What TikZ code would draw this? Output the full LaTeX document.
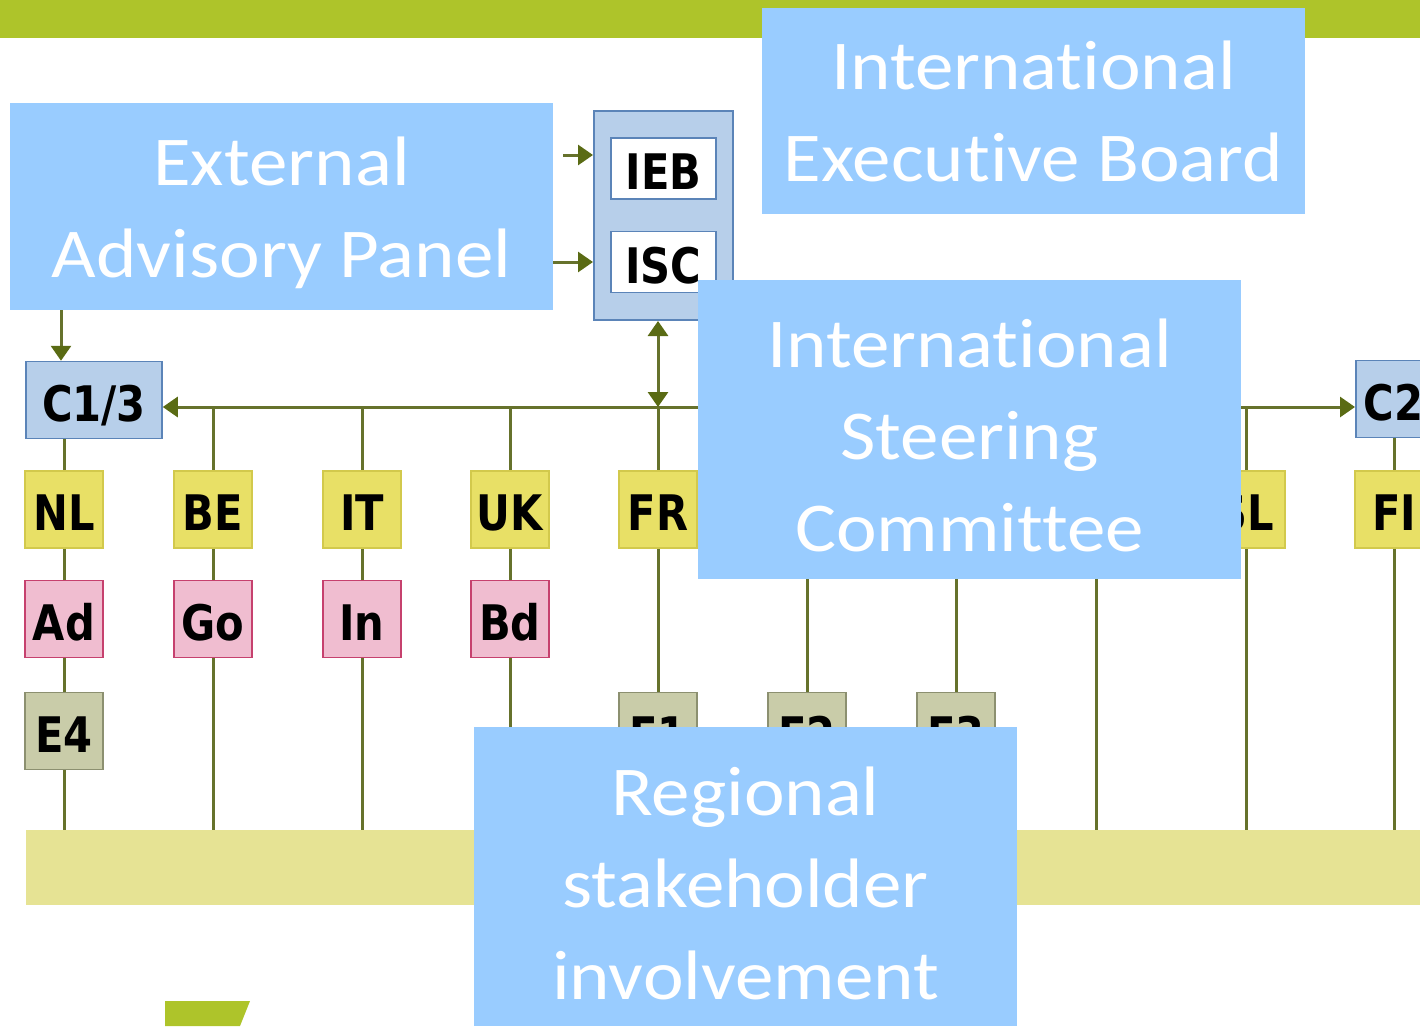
\documentclass[tikz,border=0pt]{standalone}
\usepackage{fontspec}
\setmainfont{Carlito}[Ligatures={NoCommon,NoContextual},FakeStretch=1.1]
\newfontfamily\boxfont{DejaVu Sans}[FakeStretch=0.85]
\usetikzlibrary{arrows.meta,calc,positioning}
\definecolor{color_top_green}{HTML}{AEC42A}
\definecolor{color_label}{HTML}{99CCFF}
\definecolor{color_link}{HTML}{66722C}
\definecolor{color_tip}{HTML}{5A6B14}
\definecolor{color_c_fill}{HTML}{B7CFEA}
\definecolor{color_c_draw}{HTML}{5B84B8}
\definecolor{color_country_fill}{HTML}{E8E066}
\definecolor{color_country_draw}{HTML}{D2C94C}
\definecolor{color_region_fill}{HTML}{F0BDD0}
\definecolor{color_region_draw}{HTML}{C6416E}
\definecolor{color_e_fill}{HTML}{C9CCA9}
\definecolor{color_e_draw}{HTML}{8C9070}
\definecolor{color_bar}{HTML}{E6E394}

\begin{document}
\begin{tikzpicture}[x=1pt,y=-1pt,
		every node/.style={inner sep=0pt},
		link/.style={color_link,line width=3pt},
		arr/.style={link,-{Triangle[width=20pt,length=15pt,color_tip]}},
		darr/.style={link,{Triangle[width=20pt,length=15pt,color_tip]}-{Triangle[width=20pt,length=15pt,color_tip]}},
		unit/.style={line width=1.5pt,minimum width=78pt,minimum height=77pt,
			text height=42pt,text depth=0pt,
			font=\boxfont\bfseries\fontsize{49}{49}\selectfont},
		cbox/.style={unit,draw=color_c_draw,fill=color_c_fill,minimum width=136pt},
		country/.style={unit,draw=color_country_draw,fill=color_country_fill},
		region/.style={unit,draw=color_region_draw,fill=color_region_fill},
		ebox/.style={unit,draw=color_e_draw,fill=color_e_fill},
		board/.style={draw=color_c_draw,fill=color_c_fill,line width=2pt},
		inbox/.style={unit,draw=color_c_draw,fill=white,minimum width=105pt,minimum height=61pt},
		labelbox/.style={fill=color_label,minimum width=543pt},
		labeltext/.style={text=white,align=center,font=\fontsize{70}{92}\selectfont},
	]
	\useasboundingbox (0,0) rectangle (1420,1026);

	% Bars
	\fill[color_top_green] (0,0) rectangle (1420,38);
	\node[fill=color_bar,minimum width=1394pt,minimum height=75pt,anchor=north west] (bar) at (26,830) {};

	% Points
	\coordinate (bus) at (0,407);
	\coordinate (colX) at (1096,407);
	\coordinate (iebin) at (563,155);

	% Board
	\node[board,minimum width=139pt,minimum height=209pt] (board) at (663.5,215.5) {};
	\node[inbox] (ieb) at (663.5,168.5) {IEB};
	\node[inbox] (isc) at (663.5,262) {ISC};

	% Coordinators
	\node[cbox] (c13) at (94,400) {C1/3};
	\node[cbox,anchor=west,minimum width=0pt,text width=120pt,align=left,inner xsep=8pt] (c2) at (1355,399) {C2};

	% Countries
	\node[country] (nl) at (64,509.5) {NL};
	\node[country] (be) at (213,509.5) {BE};
	\node[country] (it) at (362,509.5) {IT};
	\node[country] (uk) at (510,509.5) {UK};
	\node[country] (fr) at (658,509.5) {FR};
	\node[country] (sl) at (1246,509.5) {SL};
	\node[country] (fi) at (1394,509.5) {FI};

	% Regions
	\node[region] (ad) at (64,619) {Ad};
	\node[region] (go) at (213,619) {Go};
	\node[region] (in) at (362,619) {In};
	\node[region] (bd) at (510,619) {Bd};

	% Experts
	\node[ebox] (e4) at (64,731) {E4};
	\node[ebox] (e1) at (658,731) {E1};
	\node[ebox] (e2) at (807,731) {E2};
	\node[ebox] (e3) at (956,731) {E3};

	% Lines
	\draw[link]
		(nl.north |- c13.south) -- (nl.north)
		(nl) -- (ad)
		(ad) -- (e4)
		(e4.south) -- (e4.south |- bar.north)
		(be) -- (go)
		(go) -- (go.south |- bar.north)
		(it) -- (in)
		(in) -- (in.south |- bar.north)
		(uk) -- (bd)
		(bd) -- (bd.south |- bar.north)
		(fr) -- (e1)
		(colX) -- (colX |- bar.north)
		(sl) -- (sl.south |- bar.north)
		(fi.north |- c2.south) -- (fi.north)
		(fi) -- (fi.south |- bar.north)
		;
	\foreach \n in {e1,e2,e3}
		\draw[link] (\n.south) -- (\n.south |- bar.north);
	\foreach \n in {be,it,uk,fr,sl,e2,e3}
		\draw[link] (\n.north |- bus) -- (\n.north);

	% Arrows
	\draw[darr] (c13.east |- bus) -- (c2.west |- bus);
	\draw[darr] (board.south -| fr) -- (bus -| fr);
	\draw[arr] (iebin) -- (board.west |- iebin);

	% Labels
	\node[labelbox,minimum height=207pt] (eap) at (281.5,206.5) {};
	\node[labeltext] (eaptext) at ($(eap)+(0,6)$) {External\\Advisory Panel};
	\node[labelbox,minimum height=206pt] (iebl) at (1033.5,111) {};
	\node[labeltext] (iebtext) at (iebl) {International\\Executive Board};
	\node[labelbox,minimum height=299pt] (iscl) at (969.5,429.5) {};
	\node[labeltext] (isctext) at ($(iscl)+(0,6)$) {International\\Steering\\Committee};
	\node[labelbox,minimum height=299pt] (rsi) at (745.5,876.5) {};
	\node[labeltext] (rsitext) at ($(rsi)+(0,7)$) {Regional\\stakeholder\\involvement};

	\draw[arr] (eap.east |- isc) -- (board.west |- isc);
	\draw[arr] (eap.south -| 61,0) -- (c13.north -| 61,0);

	% Corner mark
	\fill[color_top_green] (165,1001) -- (250,1001) -- (240,1026) -- (165,1026) -- cycle;
\end{tikzpicture}
\end{document}
